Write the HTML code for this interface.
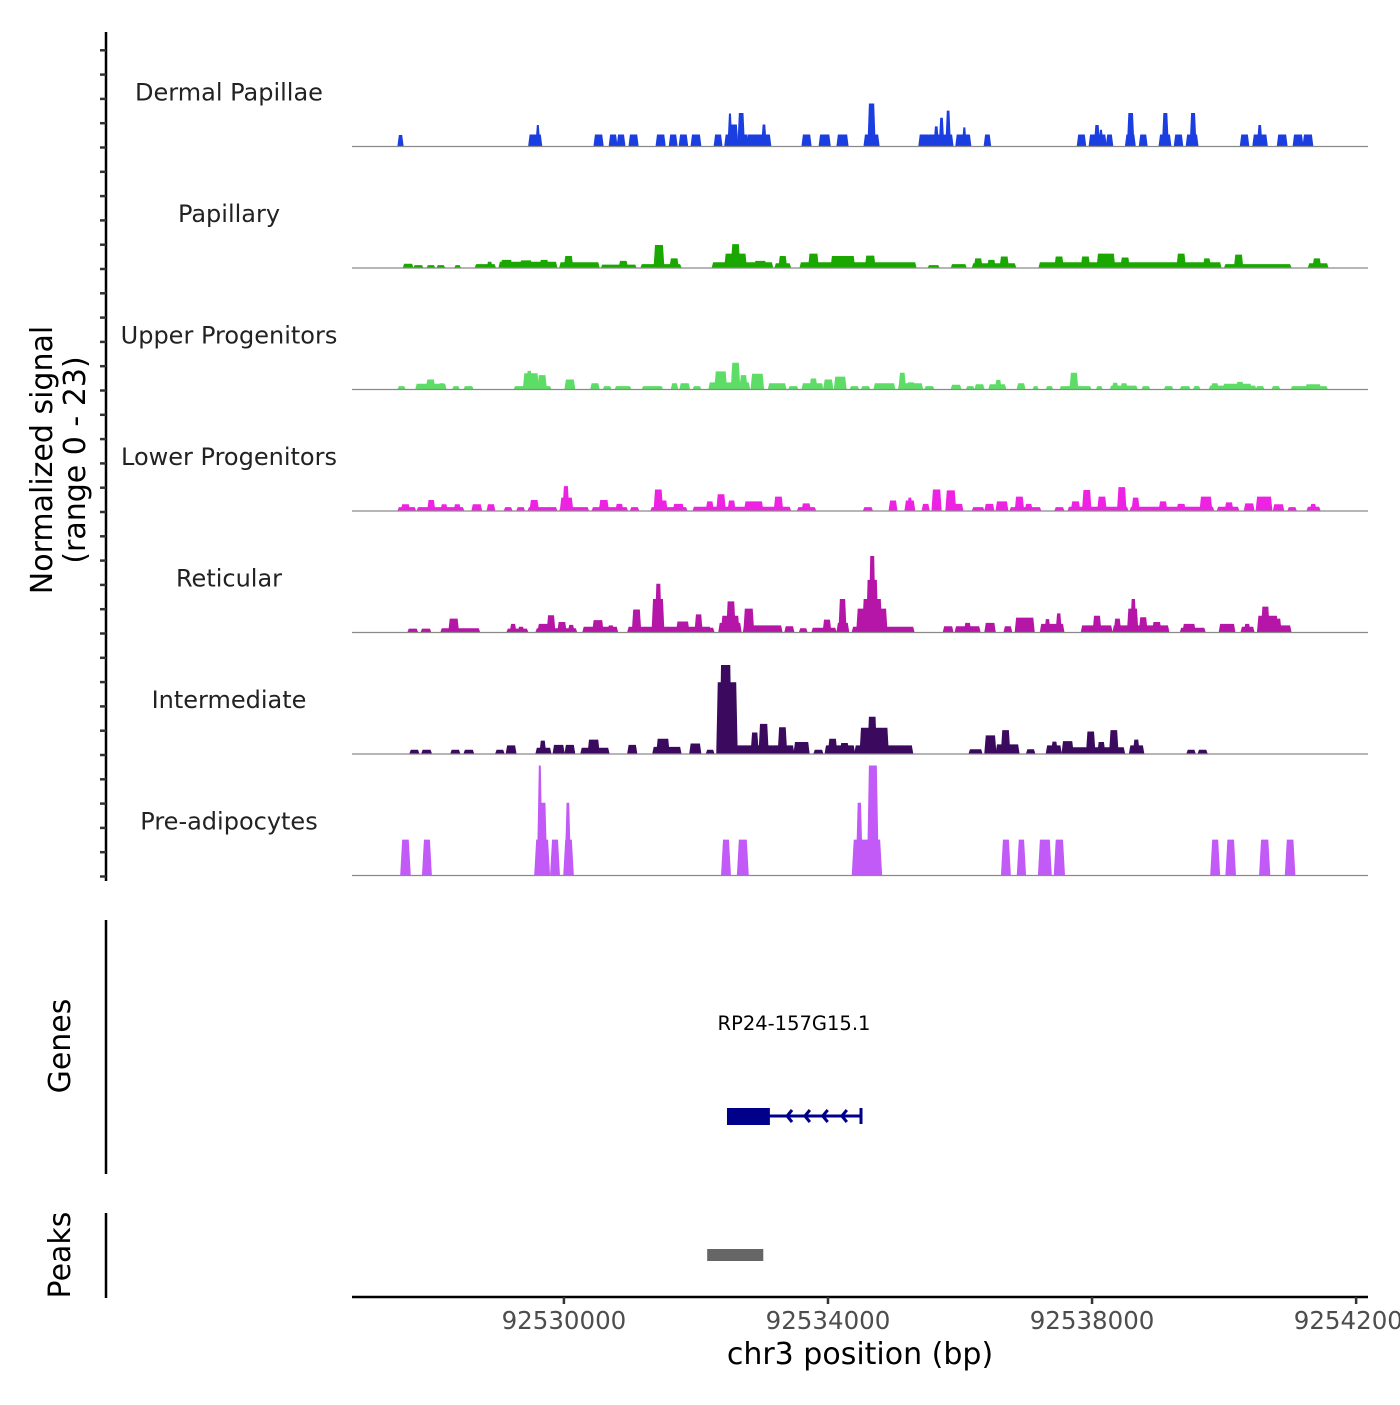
<!DOCTYPE html>
<html><head><meta charset="utf-8"><style>
html,body{margin:0;padding:0;background:#fff;}
svg text{font-family:"DejaVu Sans","Liberation Sans",sans-serif;}
</style></head><body>
<svg id="chart" width="1400" height="1400" viewBox="0 0 1400 1400" xmlns="http://www.w3.org/2000/svg">
<g id="tracks"></g>
<g id="axes"></g>
</svg>
<script>
// positions in kb offset from chr3:92526000
const regionStartKb = 0.79;
const regionEndKb = 16.18;
const signalMax = 23;
const xTickKb = [4, 8, 12, 16];
const xTickLabels = ["92530000", "92534000", "92538000", "92542000"];
const trackNames = ["Dermal Papillae","Papillary","Upper Progenitors","Lower Progenitors","Reticular","Intermediate","Pre-adipocytes"];
const trackColors = ["#1b3ee0","#1aa800","#5ddc66","#ee22e2","#b616a8","#3b0a5e","#c25af8"];
// [startKb, endKb, signal]
const dermalPapillae = [[1.50,1.55,2.4],[3.48,3.65,2.5],[3.59,3.62,4.5],[4.47,4.58,2.5],[4.70,4.79,2.5],[4.82,4.91,2.5],[5.00,5.11,2.5],[5.41,5.52,2.5],[5.61,5.70,2.5],[5.76,5.86,2.5],[5.94,6.06,2.5],[6.29,6.38,2.5],[6.45,6.52,2.5],[6.50,6.53,6.9],[6.53,6.62,4.6],[6.65,6.72,7],[6.72,6.78,2.5],[6.79,7.12,2.5],[7.01,7.05,4.6],[7.62,7.73,2.5],[7.88,8.02,2.5],[8.15,8.29,2.5],[8.56,8.76,2.5],[8.62,8.70,9],[9.39,9.52,2.5],[9.52,9.77,2.5],[9.62,9.66,4.2],[9.70,9.74,6],[9.77,9.88,2.5],[9.80,9.84,7.5],[9.95,10.15,2.5],[10.05,10.08,4],[10.38,10.45,2.5],[11.79,11.89,2.5],[11.97,12.20,2.5],[12.05,12.10,4.5],[12.12,12.15,3.5],[12.23,12.30,2.5],[12.52,12.64,2.5],[12.55,12.62,7],[12.73,12.82,2.5],[13.03,13.18,2.5],[13.08,13.14,7],[13.26,13.36,2.5],[13.44,13.59,2.5],[13.50,13.56,7],[14.26,14.36,2.5],[14.45,14.64,2.5],[14.52,14.56,4.5],[14.82,14.94,2.5],[15.06,15.18,2.5],[15.21,15.33,2.5]];
const papillary = [[1.58,1.70,0.9],[1.74,1.85,0.6],[1.94,2.03,0.6],[2.09,2.18,0.6],[2.36,2.42,0.6],[2.67,2.95,0.8],[2.85,2.90,1.3],[3.03,3.88,1.3],[3.06,3.20,1.7],[3.35,3.50,1.6],[3.65,3.75,1.7],[3.95,4.52,1.2],[4.02,4.12,2.5],[4.58,5.08,0.7],[4.85,4.95,1.5],[5.18,5.76,0.8],[5.38,5.50,4.8],[5.62,5.72,2],[6.26,7.15,1.2],[6.45,6.75,3],[6.55,6.65,5],[6.90,7.05,1.5],[7.21,7.42,1],[7.27,7.36,2.5],[7.59,9.32,1.2],[7.72,7.84,3],[8.06,8.39,2.5],[8.58,8.70,2.6],[9.53,9.67,0.6],[9.88,10.08,0.8],[10.20,10.83,1],[10.23,10.32,2],[10.43,10.52,1.7],[10.62,10.72,2.4],[11.21,13.94,1.2],[11.45,11.55,2.4],[11.85,11.95,2.4],[12.09,12.33,3],[12.45,12.55,2.2],[13.30,13.40,3],[13.70,13.78,2],[14.02,15.00,0.8],[14.17,14.27,2.8],[15.29,15.56,1],[15.36,15.45,2]];
const upperProgenitors = [[1.50,1.58,0.7],[1.77,2.20,1.2],[1.93,2.03,2.1],[2.12,2.18,1.3],[2.33,2.40,0.7],[2.50,2.61,0.7],[3.26,3.79,0.7],[3.40,3.60,3.4],[3.45,3.50,3.9],[3.62,3.72,3],[4.03,4.15,2.1],[4.42,4.52,1.3],[4.61,4.70,0.7],[4.79,5.00,0.7],[5.20,5.48,0.7],[5.64,5.71,1.3],[5.77,5.89,1.3],[5.97,6.06,0.7],[6.21,6.80,1.5],[6.30,6.45,3.8],[6.55,6.65,5.6],[6.68,6.76,3],[6.85,7.01,3.3],[7.11,7.35,1.3],[7.42,7.53,0.7],[7.62,7.91,1.3],[7.74,7.82,2.3],[7.95,8.06,2.1],[8.11,8.26,2.7],[8.35,8.45,0.7],[8.52,8.62,0.7],[8.71,9.00,1.3],[9.08,9.42,1.3],[9.09,9.16,3.5],[9.21,9.30,1.5],[9.48,9.59,0.7],[9.88,10.00,1.0],[10.11,10.20,0.7],[10.24,10.35,1.1],[10.45,10.68,1.1],[10.55,10.61,2],[10.88,10.97,1.3],[11.12,11.17,0.7],[11.32,11.39,0.7],[11.53,11.97,0.7],[11.68,11.77,3.5],[12.08,12.14,0.7],[12.29,12.67,0.8],[12.32,12.38,1.4],[12.45,12.52,1.3],[12.77,12.86,0.7],[13.11,13.21,0.7],[13.35,13.47,0.7],[13.55,13.62,0.7],[13.79,14.47,0.8],[13.82,13.90,1.3],[14.00,14.40,1.2],[14.20,14.28,1.6],[14.50,14.59,0.7],[14.74,14.83,0.7],[15.03,15.55,0.7],[15.25,15.45,1.1]];
const lowerProgenitors = [[1.50,1.74,0.8],[1.55,1.65,1.4],[1.79,2.47,0.8],[1.95,2.03,2.3],[2.15,2.22,1.4],[2.35,2.42,1.4],[2.62,2.74,1.4],[2.85,2.94,1.4],[3.11,3.20,0.8],[3.30,3.39,0.8],[3.47,3.88,0.8],[3.50,3.60,2.3],[3.95,4.36,0.8],[3.96,4.12,2.8],[4.00,4.06,5.2],[4.44,4.95,0.8],[4.55,4.66,2.3],[4.80,4.88,1.5],[5.02,5.12,0.8],[5.33,5.85,0.8],[5.38,5.48,4.5],[5.45,5.55,2.2],[5.67,5.80,1.5],[5.97,7.42,0.9],[6.17,6.25,2],[6.33,6.43,3.5],[6.50,6.58,2.2],[6.75,7.00,2],[7.20,7.30,3],[7.55,7.80,0.8],[7.62,7.72,1.6],[8.55,8.66,0.8],[8.94,9.03,2.2],[9.18,9.30,2.2],[9.22,9.26,2.8],[9.44,9.52,1.5],[9.59,9.70,4.5],[9.80,9.92,4.3],[9.92,10.03,1.5],[10.20,10.35,0.8],[10.39,10.50,1.5],[10.56,10.71,2],[10.77,11.21,0.8],[10.85,10.95,3],[11.00,11.08,1.5],[11.45,11.56,0.8],[11.65,12.53,0.9],[11.70,11.80,2],[11.87,11.97,4.4],[12.10,12.20,3],[12.40,12.50,5],[12.59,13.83,0.9],[12.62,12.70,2.8],[13.03,13.12,2],[13.30,13.40,1.5],[13.65,13.80,3],[13.91,14.21,0.9],[14.03,14.12,1.8],[14.32,14.44,1.6],[14.50,14.71,3],[14.76,14.89,1.4],[14.98,15.08,0.8],[15.27,15.44,0.9],[15.32,15.38,1.5]];
const reticular = [[1.65,1.77,0.8],[1.85,1.97,0.8],[2.15,2.71,0.9],[2.27,2.39,2.9],[3.15,3.44,0.8],[3.20,3.26,1.8],[3.32,3.38,1.2],[3.59,4.18,0.9],[3.62,3.76,1.8],[3.76,3.85,3.6],[3.92,4.02,2.2],[4.08,4.14,1.6],[4.30,4.80,1.2],[4.45,4.58,2.6],[4.68,4.74,1.5],[4.98,6.21,1.2],[5.05,5.15,4.8],[5.35,5.50,7],[5.40,5.46,10.2],[5.72,5.88,2.3],[6.00,6.08,3.8],[6.18,6.26,1],[6.36,6.67,2],[6.40,6.64,3.5],[6.48,6.58,6.5],[6.73,7.29,1.5],[6.74,6.86,5],[7.36,7.47,1.3],[7.58,7.67,0.9],[7.77,8.11,1],[7.94,8.03,2.7],[8.15,8.30,2],[8.18,8.26,7],[8.38,9.29,1.2],[8.45,8.88,5],[8.54,8.80,7],[8.60,8.74,11],[8.64,8.70,16],[9.76,9.88,1.3],[9.94,10.29,1.3],[10.08,10.15,2],[10.39,10.52,2],[10.68,10.77,1.3],[10.85,11.11,3.1],[11.23,11.56,1.8],[11.30,11.35,2.8],[11.47,11.52,4],[11.85,12.29,1.5],[12.03,12.12,3.5],[12.33,13.15,1.5],[12.35,12.42,2.9],[12.55,12.68,5],[12.60,12.65,7],[12.73,12.82,3.2],[12.93,13.03,2.2],[13.35,13.70,1],[13.39,13.55,1.8],[13.94,14.15,1.8],[14.27,14.44,1.2],[14.32,14.38,1.8],[14.52,15.00,1.5],[14.52,14.80,3.5],[14.58,14.67,5.4],[14.78,14.85,2.9]];
const intermediate = [[1.68,1.79,0.9],[1.86,1.98,0.9],[2.30,2.41,0.9],[2.50,2.62,0.9],[2.98,3.08,0.9],[3.14,3.26,1.8],[3.59,3.79,1.3],[3.65,3.71,2.8],[3.85,3.99,1.9],[4.03,4.15,1.9],[4.27,4.67,1.3],[4.38,4.52,3],[4.98,5.09,1.9],[5.36,5.76,1.5],[5.42,5.58,3.2],[5.92,6.06,2.2],[6.17,6.26,0.9],[6.33,6.61,15],[6.38,6.52,18.6],[6.61,7.47,1.8],[6.85,6.93,4.5],[6.97,7.08,6.3],[7.26,7.36,5.6],[7.50,7.70,2.5],[7.80,7.91,0.9],[7.97,8.39,1.8],[8.02,8.12,3.2],[8.20,8.30,2.3],[8.42,9.27,1.8],[8.50,8.90,5.5],[8.62,8.72,7.8],[10.15,10.32,1],[10.39,10.53,3.9],[10.56,10.88,2],[10.64,10.74,5],[11.02,11.12,1],[11.32,11.52,1.8],[11.40,11.46,2.6],[11.56,11.70,2.7],[11.71,12.48,1.4],[11.93,12.03,4.7],[12.10,12.18,2.5],[12.28,12.38,5],[12.58,12.77,1.8],[12.64,12.70,3],[13.45,13.55,0.9],[13.62,13.73,0.9]];
const preAdipocytes = [[1.55,1.65,7.5],[1.88,1.97,7.5],[3.58,3.76,7.5],[3.62,3.65,23],[3.65,3.72,15.2],[3.82,3.91,7.5],[4.02,4.12,7.5],[4.04,4.08,15.2],[6.41,6.50,7.5],[6.65,6.77,7.5],[8.39,8.79,7.5],[8.45,8.50,15.2],[8.62,8.74,23],[10.65,10.74,7.5],[10.89,10.97,7.5],[11.21,11.36,7.5],[11.45,11.56,7.5],[13.82,13.91,7.5],[14.05,14.15,7.5],[14.56,14.67,7.5],[14.95,15.05,7.5]];
const trackData = [dermalPapillae, papillary, upperProgenitors, lowerProgenitors, reticular, intermediate, preAdipocytes];
// gene model & peak (kb offsets)
const geneName = "RP24-157G15.1";
const geneExon = [6.47, 7.12];
const geneSpan = [6.47, 8.50];
const geneArrowsKb = [7.38, 7.65, 7.92, 8.21];
const peakRegion = [6.17, 7.02];

const NS = "http://www.w3.org/2000/svg";
const X0 = 352, X1 = 1368;
function xScale(kb){ return X0 + (kb - regionStartKb) / (regionEndKb - regionStartKb) * (X1 - X0); }
const trackTop = 25, trackStep = 121.5, trackH = 110;
function baseY(i){ return trackTop + (i + 1) * trackStep; }
function yScale(i, v){ return baseY(i) - v / signalMax * trackH; }
function mk(tag, attrs, parent){ const e = document.createElementNS(NS, tag); for (const k in attrs) e.setAttribute(k, attrs[k]); parent.appendChild(e); return e; }

const tracks = document.getElementById('tracks');
const axes = document.getElementById('axes');

trackData.forEach((blocks, i) => {
  const g = mk('g', {}, tracks);
  
  
  const b = baseY(i);
  const slope = i === 6 ? 2 : 1.5;
  blocks.forEach(bl => {
    const xa = xScale(bl[0]), xb = xScale(bl[1]), yt = yScale(i, bl[2]);
    const p = mk('polygon', {points: `${xa - slope},${b} ${xa},${yt} ${xb},${yt} ${xb + slope},${b}`, fill: trackColors[i]}, g);
    
    
  });
  const ln = mk('line', {x1: X0, x2: X1, y1: b, y2: b, stroke: '#8a8a8a', 'stroke-width': 1.2}, g);
  
  
  const t = mk('text', {x: 229, y: b - 46, 'text-anchor': 'middle', 'font-size': 24, fill: '#222'}, g);
  t.textContent = trackNames[i];
  
  
});

// y axis
const ya = mk('line', {x1: 106, x2: 106, y1: 32, y2: 881, stroke: '#000', 'stroke-width': 2.5}, axes);


for (let i = 0; i < 7; i++) {
  for (let k = 0; k < 5; k++) {
    const y = baseY(i) - k * trackStep / 5;
    const tk = mk('line', {x1: 100, x2: 106, y1: y + 1, y2: y + 1, stroke: '#333', 'stroke-width': 2.5}, axes);
    
    
  }
}
const yt1 = mk('text', {x: 0, y: 0, transform: 'translate(52,460) rotate(-90)', 'text-anchor': 'middle', 'font-size': 30, fill: '#000'}, axes);
yt1.textContent = 'Normalized signal';


const yt2 = mk('text', {x: 0, y: 0, transform: 'translate(85,460) rotate(-90)', 'text-anchor': 'middle', 'font-size': 30, fill: '#000'}, axes);
yt2.textContent = '(range 0 - 23)';



// genes panel
const ga = mk('line', {x1: 106, x2: 106, y1: 920, y2: 1174, stroke: '#000', 'stroke-width': 2.5}, axes);


const gt = mk('text', {x: 0, y: 0, transform: 'translate(70,1046) rotate(-90)', 'text-anchor': 'middle', 'font-size': 30, fill: '#000'}, axes);
gt.textContent = 'Genes';


const gl = mk('text', {x: xScale((geneSpan[0] + geneSpan[1]) / 2), y: 1030, 'text-anchor': 'middle', 'font-size': 19.5, fill: '#000'}, axes);
gl.textContent = geneName;


const gline = mk('line', {x1: xScale(geneSpan[0]), x2: xScale(geneSpan[1]), y1: 1116, y2: 1116, stroke: '#00008b', 'stroke-width': 3}, axes);


const gex = mk('rect', {x: xScale(geneExon[0]), y: 1108, width: xScale(geneExon[1]) - xScale(geneExon[0]), height: 17, fill: '#00008b'}, axes);


geneArrowsKb.forEach(kb => {
  const x = xScale(kb);
  const ar = mk('polyline', {points: `${x + 5},${1110} ${x},${1116} ${x + 5},${1122}`, fill: 'none', stroke: '#00008b', 'stroke-width': 3}, axes);
  
  
});
const gend = mk('line', {x1: xScale(geneSpan[1]), x2: xScale(geneSpan[1]), y1: 1108, y2: 1124, stroke: '#00008b', 'stroke-width': 3}, axes);



// peaks panel
const pa = mk('line', {x1: 106, x2: 106, y1: 1213, y2: 1298, stroke: '#000', 'stroke-width': 2.5}, axes);


const pt = mk('text', {x: 0, y: 0, transform: 'translate(70,1255) rotate(-90)', 'text-anchor': 'middle', 'font-size': 30, fill: '#000'}, axes);
pt.textContent = 'Peaks';


const pr = mk('rect', {x: xScale(peakRegion[0]), y: 1249, width: xScale(peakRegion[1]) - xScale(peakRegion[0]), height: 12, fill: '#666'}, axes);



// x axis
const xa = mk('line', {x1: X0, x2: X1, y1: 1297, y2: 1297, stroke: '#000', 'stroke-width': 2.5}, axes);


xTickKb.forEach((kb, i) => {
  const x = xScale(kb);
  const tk = mk('line', {x1: x, x2: x, y1: 1297, y2: 1304, stroke: '#333', 'stroke-width': 2.5}, axes);
  
  
  const tl = mk('text', {x: x, y: 1329, 'text-anchor': 'middle', 'font-size': 24.5, fill: '#4d4d4d'}, axes);
  tl.textContent = xTickLabels[i];
  
  
});
const xt = mk('text', {x: 860, y: 1364, 'text-anchor': 'middle', 'font-size': 30, fill: '#000'}, axes);
xt.textContent = 'chr3 position (bp)';


</script>
</body></html>
